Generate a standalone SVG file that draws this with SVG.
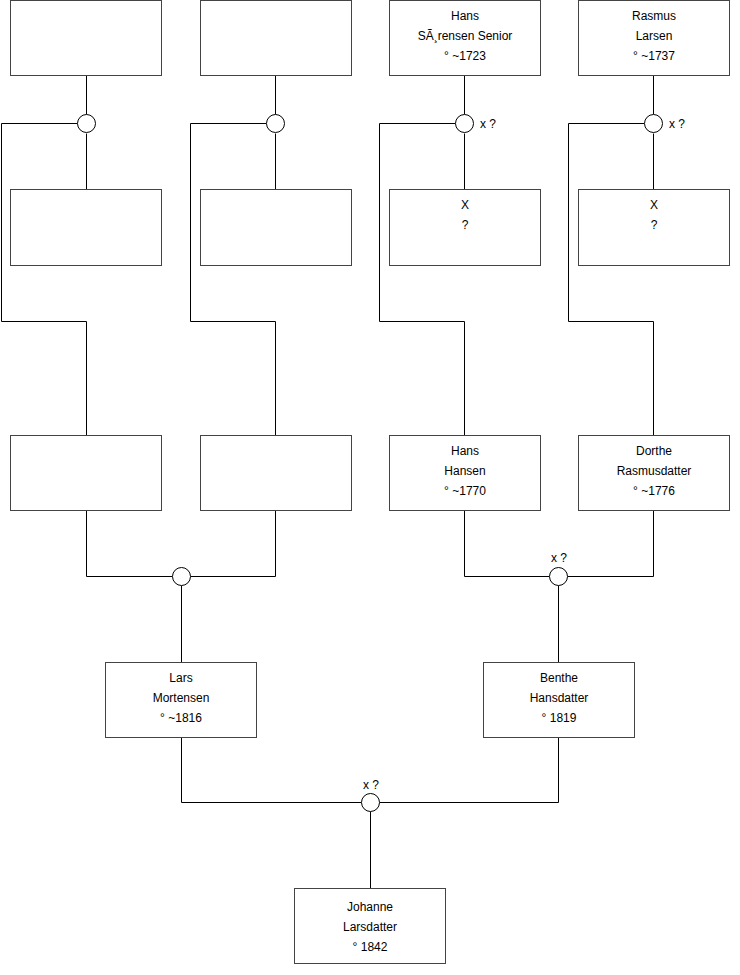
<svg xmlns="http://www.w3.org/2000/svg" width="740" height="975" viewBox="0 0 740 975">
<style>
.box{fill:#fff;stroke:#444;stroke-width:1}
.ln{fill:none;stroke:#000;stroke-width:1}
.c{fill:#fff;stroke:#000;stroke-width:1}
text{font-family:"Liberation Sans",Arial,sans-serif;font-size:12px;fill:#000}
.m{text-anchor:middle}
</style>
<rect width="740" height="975" fill="#fff"/>
<g id="connectors">
<path class="ln" d="M86.5 75.5V114.5M86.5 133.5V189.5M77.5 123.5H1.5V321.5H86.5V435.5"/>
<path class="ln" d="M275.5 75.5V114.5M275.5 133.5V189.5M266.5 123.5H190.5V321.5H275.5V435.5"/>
<path class="ln" d="M464.5 75.5V114.5M464.5 133.5V189.5M455.5 123.5H379.5V321.5H464.5V435.5"/>
<path class="ln" d="M653.5 75.5V114.5M653.5 133.5V189.5M644.5 123.5H568.5V321.5H653.5V435.5"/>
<path class="ln" d="M86.5 510.5V576.5H172.5M275.5 510.5V576.5H190.5M181.5 585.5V662.5"/>
<path class="ln" d="M464.5 510.5V576.5H549.5M653.5 510.5V576.5H567.5M558.5 585.5V662.5"/>
<path class="ln" d="M181.5 737.5V802.5H361.5M558.5 737.5V802.5H379.5M370.5 811.5V888.5"/>
<circle class="c" cx="86.5" cy="123.5" r="9"/>
<circle class="c" cx="275.5" cy="123.5" r="9"/>
<circle class="c" cx="464.5" cy="123.5" r="9"/>
<circle class="c" cx="653.5" cy="123.5" r="9"/>
<circle class="c" cx="181.5" cy="576.5" r="9"/>
<circle class="c" cx="558.5" cy="576.5" r="9"/>
<circle class="c" cx="370.5" cy="802.5" r="9"/>
<text x="480" y="128">x ?</text>
<text x="669" y="128">x ?</text>
<text class="m" x="559" y="562">x ?</text>
<text class="m" x="371" y="789">x ?</text>
</g>
<g id="n1"><rect class="box" x="10.5" y="0.5" width="151" height="75"/></g>
<g id="n2"><rect class="box" x="200.5" y="0.5" width="151" height="75"/></g>
<g id="n3"><rect class="box" x="389.5" y="0.5" width="151" height="75"/>
<text class="m" x="465" y="20">Hans</text><text class="m" x="465" y="40">SÃ¸rensen Senior</text><text class="m" x="465" y="60">° ~1723</text></g>
<g id="n4"><rect class="box" x="578.5" y="0.5" width="151" height="75"/>
<text class="m" x="654" y="20">Rasmus</text><text class="m" x="654" y="40">Larsen</text><text class="m" x="654" y="60">° ~1737</text></g>
<g id="n5"><rect class="box" x="10.5" y="189.5" width="151" height="76"/></g>
<g id="n6"><rect class="box" x="200.5" y="189.5" width="151" height="76"/></g>
<g id="n7"><rect class="box" x="389.5" y="189.5" width="151" height="76"/>
<text class="m" x="465" y="209">X</text><text class="m" x="465" y="229">?</text></g>
<g id="n8"><rect class="box" x="578.5" y="189.5" width="151" height="76"/>
<text class="m" x="654" y="209">X</text><text class="m" x="654" y="229">?</text></g>
<g id="n9"><rect class="box" x="10.5" y="435.5" width="151" height="75"/></g>
<g id="n10"><rect class="box" x="200.5" y="435.5" width="151" height="75"/></g>
<g id="n11"><rect class="box" x="389.5" y="435.5" width="151" height="75"/>
<text class="m" x="465" y="455">Hans</text><text class="m" x="465" y="475">Hansen</text><text class="m" x="465" y="495">° ~1770</text></g>
<g id="n12"><rect class="box" x="578.5" y="435.5" width="151" height="75"/>
<text class="m" x="654" y="455">Dorthe</text><text class="m" x="654" y="475">Rasmusdatter</text><text class="m" x="654" y="495">° ~1776</text></g>
<g id="n13"><rect class="box" x="105.5" y="662.5" width="151" height="75"/>
<text class="m" x="181" y="682">Lars</text><text class="m" x="181" y="702">Mortensen</text><text class="m" x="181" y="722">° ~1816</text></g>
<g id="n14"><rect class="box" x="483.5" y="662.5" width="151" height="75"/>
<text class="m" x="559" y="682">Benthe</text><text class="m" x="559" y="702">Hansdatter</text><text class="m" x="559" y="722">° 1819</text></g>
<g id="n15"><rect class="box" x="294.5" y="888.5" width="151" height="75"/>
<text class="m" x="370" y="911">Johanne</text><text class="m" x="370" y="931">Larsdatter</text><text class="m" x="370" y="951">° 1842</text></g>
</svg>
